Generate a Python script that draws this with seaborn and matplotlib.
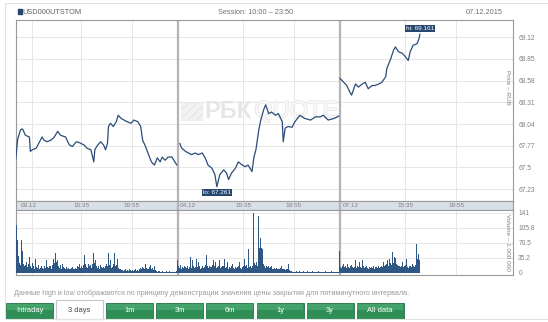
import numpy as np
import pandas as pd
import matplotlib
matplotlib.use("Agg")
import matplotlib.pyplot as plt
from matplotlib.patches import Rectangle
import matplotlib.patheffects as pe
import seaborn as sns

sns.set_theme(style="white")
plt.rcParams["font.family"] = ["Liberation Sans", "DejaVu Sans"]

# ---------------------------------------------------------------- data
ticker = "USD000UTSTOM"
session_text = "Session: 10:00 \u2013 23:50"
current_date = "07.12.2015"
days = ["03.12", "04.12", "07.12"]

# 5-minute closing prices (time of bar, price), one pair of lists per day
times_d1 = ["10:00", "10:10", "10:25", "10:35", "10:50", "11:10", "11:15", "11:25", "11:45",
            "12:00", "12:15", "12:25", "12:40", "13:00", "13:15", "13:35", "13:50", "14:15",
            "14:35", "14:50", "15:10", "15:25", "15:50", "16:05", "16:25", "16:40", "16:45",
            "17:00", "17:15", "17:30", "17:40", "17:50", "17:55", "18:05", "18:20", "18:35",
            "18:45", "19:00", "19:15", "19:30", "19:50", "20:05", "20:25", "20:40", "20:50",
            "21:05", "21:25", "21:35", "21:50", "22:05", "22:20", "22:30", "22:45", "23:00",
            "23:20", "23:35", "23:45"]
price_d1 = [67.60, 67.85, 67.97, 67.98, 67.90, 67.88, 67.70, 67.72, 67.74,
            67.81, 67.88, 67.84, 67.82, 67.84, 67.87, 67.95, 67.90, 67.88,
            67.78, 67.76, 67.82, 67.81, 67.78, 67.74, 67.72, 67.57, 67.72,
            67.78, 67.82, 67.78, 67.72, 67.80, 68.01, 68.05, 68.01, 68.07,
            68.15, 68.11, 68.09, 68.07, 68.05, 68.09, 68.07, 68.01, 67.84,
            67.76, 67.63, 67.57, 67.53, 67.62, 67.57, 67.63, 67.59, 67.63,
            67.63, 67.57, 67.53]

times_d2 = ["10:10", "10:20", "10:40", "10:55", "11:10", "11:30", "11:45", "12:05", "12:20",
            "12:35", "12:55", "13:10", "13:20", "13:35", "13:55", "14:10", "14:20", "14:35",
            "14:55", "15:10", "15:30", "15:45", "16:00", "16:20", "16:30", "16:40", "16:55",
            "17:05", "17:20", "17:30", "17:45", "18:00", "18:20", "18:35", "18:55", "19:00",
            "19:10", "19:25", "19:45", "20:00", "20:25", "20:50", "21:20", "21:45", "22:10",
            "22:25", "22:50", "23:20", "23:45"]
price_d2 = [67.80, 67.74, 67.70, 67.68, 67.66, 67.68, 67.66, 67.68, 67.62,
            67.53, 67.49, 67.41, 67.261, 67.41, 67.47, 67.43, 67.35, 67.43,
            67.49, 67.57, 67.53, 67.51, 67.53, 67.45, 67.63, 67.72, 67.97,
            68.09, 68.22, 68.28, 68.17, 68.19, 68.15, 68.17, 68.07, 67.82,
            67.99, 68.01, 68.00, 68.07, 68.15, 68.11, 68.09, 68.13, 68.13,
            68.15, 68.09, 68.11, 68.14]

times_d3 = ["10:00", "10:20", "10:35", "10:55", "11:00", "11:20", "11:35", "11:55", "12:10",
            "12:25", "12:45", "13:00", "13:20", "13:35", "13:55", "14:00", "14:20", "14:35",
            "14:45", "15:00", "15:20", "15:35", "15:50", "16:00", "16:15", "16:35", "16:45",
            "16:50"]
price_d3 = [68.61, 68.56, 68.52, 68.42, 68.40, 68.54, 68.50, 68.54, 68.56,
            68.48, 68.52, 68.52, 68.54, 68.56, 68.63, 68.73, 68.85, 68.96,
            69.00, 68.94, 68.92, 68.88, 68.83, 68.94, 69.02, 69.04, 69.10,
            69.161]

# 5-minute traded volume (millions USD), one value per bar from 10:00
volume_d1 = [30, 113, 76, 40, 22, 18, 76, 52, 20, 15,
             18, 25, 14, 20, 37, 16, 12, 22, 15, 10,
             33, 14, 12, 18, 9, 11, 15, 12, 10, 16,
             13, 11, 29, 14, 12, 17, 15, 10, 18, 33,
             22, 47, 25, 29, 15, 12, 18, 10, 20, 14,
             11, 9, 13, 8, 12, 10, 9, 11, 14, 8,
             10, 12, 9, 15, 13, 21, 11, 16, 12, 18,
             41, 20, 33, 14, 12, 21, 15, 18, 12, 20,
             47, 22, 29, 17, 12, 15, 10, 18, 14, 11,
             13, 12, 16, 20, 15, 47, 18, 29, 12, 14,
             20, 47, 15, 18, 33, 12, 10, 8, 6, 7,
             5, 6, 8, 5, 7, 6, 5, 9, 6, 5,
             7, 5, 6, 8, 5, 6, 4, 9, 12, 10,
             14, 11, 9, 21, 12, 10, 8, 13, 18, 9,
             11, 7, 15, 6, 4, 3, 5, 4, 3, 2,
             4, 3, 2, 3, 5, 2, 3, 2, 4, 3,
             2, 3, 2, 3, 2, 4]
volume_d2 = [29, 15, 12, 18, 10, 14, 11, 16, 13, 12,
             15, 10, 14, 37, 12, 29, 16, 11, 14, 33,
             13, 25, 15, 10, 12, 16, 11, 14, 18, 41,
             15, 12, 16, 10, 14, 13, 18, 29, 15, 25,
             12, 14, 16, 29, 11, 13, 15, 17, 33, 12,
             14, 25, 10, 13, 11, 15, 21, 12, 9, 14,
             11, 13, 16, 25, 12, 10, 14, 17, 33, 15,
             18, 12, 56, 14, 16, 12, 18, 15, 141, 22,
             19, 25, 17, 134, 58, 82, 58, 55, 20, 15,
             12, 17, 13, 15, 11, 14, 16, 10, 9, 11,
             8, 12, 9, 10, 8, 11, 15, 9, 8, 10,
             7, 9, 8, 21, 6, 5, 4, 3, 4, 2,
             3, 2, 4, 3, 2, 5, 3, 2, 3, 4,
             2, 3, 2, 4, 3, 2, 3, 2, 4, 2,
             3, 2, 3, 2, 4, 3, 2, 3, 2, 3,
             2, 4, 3, 2, 3, 2, 3, 4, 2, 3,
             2, 3, 2, 3, 2, 3]
volume_d3 = [52, 14, 12, 16, 21, 13, 15, 11, 21, 14,
             12, 15, 18, 13, 11, 14, 29, 12, 15, 13,
             25, 14, 12, 29, 16, 11, 13, 15, 12, 10,
             14, 11, 13, 12, 15, 10, 13, 11, 14, 12,
             15, 11, 13, 16, 14, 25, 15, 18, 20, 29,
             16, 33, 22, 19, 48, 24, 37, 35, 20, 18,
             15, 17, 14, 16, 25, 13, 15, 19, 33, 14,
             12, 17, 15, 13, 21, 16, 14, 18, 68, 22,
             33, 44, 30]

price_ticks = [67.23, 67.5, 67.77, 68.04, 68.31, 68.58, 68.85, 69.12]
volume_ticks = [0, 35.2, 70.5, 105.8, 141]
hour_labels = ["15:35", "19:55"]
footer = ("Данные high и low отображаются по принципу демонстрации значения "
          "цены закрытия для пятиминутного интервала.")
buttons = ["Intraday", "3 days", "1m", "3m", "6m", "1y", "3y", "All data"]
active_button = "3 days"

# ---------------------------------------------------------------- helpers
BARS_PER_DAY = 166          # 10:00 ... 23:45, 5-minute bars


def slot(hhmm):
    h, m = map(int, hhmm.split(":"))
    return (h * 60 + m - 600) / 5


price_frames = []
for i, (t, p) in enumerate([(times_d1, price_d1), (times_d2, price_d2), (times_d3, price_d3)]):
    price_frames.append(pd.DataFrame({"pos": [i * BARS_PER_DAY + slot(x) for x in t],
                                      "price": p, "day": days[i]}))
prices = pd.concat(price_frames, ignore_index=True)

vol_frames = []
for i, v in enumerate([volume_d1, volume_d2, volume_d3]):
    vol_frames.append(pd.DataFrame({"pos": i * BARS_PER_DAY + np.arange(len(v)), "vol": v}))
volumes = pd.concat(vol_frames, ignore_index=True)

W, H = 548, 322
fig = plt.figure(figsize=(W / 100, H / 100), dpi=100)
fig.patch.set_facecolor("white")


def px_axes(x0, y0, x1, y1, **kw):
    return fig.add_axes([x0 / W, 1 - y1 / H, (x1 - x0) / W, (y1 - y0) / H], **kw)


LINE = "#2b4c78"
BAR = "#2f5783"
GRID = "#e6e6e6"
FRAME = "#9a9a9a"
SEP = "#b4b4b4"
TXT = "#808080"
XMAX = 509

# page background: frame, header, footer, tabs
bg = px_axes(0, 0, W, H)
bg.set_xlim(0, W)
bg.set_ylim(H, 0)
bg.axis("off")
bg.plot([5, 5, W], [318, 3, 3], color="#e2e2e2", lw=0.8)
bg.plot([5, W], [318.5, 318.5], color="#e2e2e2", lw=0.8)
bg.add_patch(Rectangle((17.5, 9), 4, 5, color="#2a4670"))
bg.text(22, 12, ticker, fontsize=5.3, color="#606060", va="center", ha="left")
bg.text(256, 12, session_text, fontsize=5.3, color="#707070", va="center", ha="center")
bg.text(503, 12, current_date, fontsize=5.3, color="#707070", va="center", ha="right")
bg.text(14, 293, footer, fontsize=5.2, color="#9a9a9a", va="center", ha="left")

bx = 6
for name in buttons:
    if name == active_button:
        bg.add_patch(Rectangle((bx, 300), 47, 19, facecolor="white", edgecolor="#c8c8c8", lw=0.8))
        bg.text(bx + 23.5, 310.5, name, fontsize=5.4, color="#444444", ha="center", va="center")
    else:
        bg.add_patch(Rectangle((bx, 303), 47, 15.5, facecolor="#2f8f57", edgecolor="#237245", lw=0.6))
        bg.add_patch(Rectangle((bx + 0.5, 303.5), 46, 6, facecolor="#43a36b", edgecolor="none"))
        bg.text(bx + 23.5, 310.5, name, fontsize=5.4, color="white", ha="center", va="center")
    bx += 50.1

# ---------------------------------------------------------------- price panel
L, R = 15.7, 512.7
axp = px_axes(L, 20, R, 201)
axp.set_facecolor("white")

grid_pos = [slot("11:25")] + [d * BARS_PER_DAY + slot(h) for d in range(3) for h in hour_labels]
sep_pos = [BARS_PER_DAY, 2 * BARS_PER_DAY]

for y in price_ticks:
    axp.axhline(y, color=GRID, lw=0.7, zorder=0)
for x in grid_pos:
    axp.axvline(x, color=GRID, lw=0.7, zorder=0)
for x in sep_pos:
    axp.axvline(x, color=SEP, lw=1.6, zorder=1)

# watermark
axp.add_patch(Rectangle((0.332, 0.445), 0.043, 0.10, transform=axp.transAxes,
                        facecolor="#f2f2f2", edgecolor="#e6e6e6", hatch="////", lw=0.4, zorder=0.5))
axp.text(0.380, 0.495, "РБК", transform=axp.transAxes, fontsize=17, fontweight="bold",
         color="#e6e6e6", ha="left", va="center", zorder=0.5)
axp.text(0.480, 0.495, "QUOTE", transform=axp.transAxes, fontsize=17,
         color="#fafafa", ha="left", va="center", zorder=0.5,
         path_effects=[pe.withStroke(linewidth=1.0, foreground="#e2e2e2")])

sns.lineplot(data=prices, x="pos", y="price", units="day", estimator=None,
             color=LINE, lw=0.9, ax=axp, zorder=3)

axp.set_xlim(0, XMAX)
axp.set_ylim(67.083, 69.335)
axp.set_xticks([])
axp.yaxis.tick_right()
axp.set_yticks(price_ticks)
axp.set_yticklabels([f"{v:g}" for v in price_ticks])
axp.tick_params(axis="y", length=0, pad=4, labelsize=4.8, labelcolor=TXT)
axp.set_xlabel("")
axp.set_ylabel("")
for s in axp.spines.values():
    s.set_color(FRAME)
    s.set_linewidth(0.8)
axp.text(0.99, 0.63, "Price \u2013 RUB", transform=axp.transAxes, rotation=270,
         fontsize=4.6, color=TXT, ha="center", va="center")

# hi / lo markers
ihi = prices["price"].idxmax()
ilo = prices["price"].idxmin()
box = dict(boxstyle="square,pad=0.15", facecolor="#24466f", edgecolor="none")
axp.annotate(f"hi: {prices.loc[ihi, 'price']:.3f}", (prices.loc[ihi, "pos"], prices.loc[ihi, "price"]),
             xytext=(0, 4), textcoords="offset points", ha="center", va="center",
             fontsize=4.6, color="white", bbox=box, zorder=5)
axp.annotate(f"lo: {prices.loc[ilo, 'price']:.3f}", (prices.loc[ilo, "pos"], prices.loc[ilo, "price"]),
             xytext=(0, -4), textcoords="offset points", ha="center", va="center",
             fontsize=4.6, color="white", bbox=box, zorder=5)

# ---------------------------------------------------------------- time band
axb = px_axes(L, 201, R, 210)
axb.set_facecolor("#d9dfe7")
axb.set_xlim(0, XMAX)
axb.set_ylim(0, 1)
axb.set_xticks([])
axb.set_yticks([])
for s in axb.spines.values():
    s.set_color(FRAME)
    s.set_linewidth(0.8)
for d, name in enumerate(days):
    start = d * BARS_PER_DAY
    axb.text(start + (5 if d == 0 else 2.5), 0.45, name, fontsize=4.6, color=TXT, ha="left", va="center")
    for h in hour_labels:
        axb.text(start + slot(h), 0.45, h, fontsize=4.6, color=TXT, ha="center", va="center")
for x in sep_pos:
    axb.axvline(x, color=SEP, lw=1.6)

# ---------------------------------------------------------------- volume panel
axv = px_axes(L, 210, R, 274.5)
axv.set_facecolor("white")
for y in volume_ticks[1:]:
    axv.axhline(y, color=GRID, lw=0.7, zorder=0)
for x in grid_pos:
    axv.axvline(x, color=GRID, lw=0.7, zorder=0)
for x in sep_pos:
    axv.axvline(x, color=SEP, lw=1.6, zorder=1)

sns.histplot(data=volumes, x="pos", weights="vol", discrete=True, shrink=1.0,
             color=BAR, edgecolor=None, linewidth=0, alpha=1, ax=axv, zorder=3)

axv.set_xlim(0, XMAX)
axv.set_ylim(-4, 147.5)
axv.set_xticks([])
axv.yaxis.tick_right()
axv.set_yticks(volume_ticks)
axv.set_yticklabels([f"{v:g}" for v in volume_ticks])
axv.tick_params(axis="y", length=0, pad=4, labelsize=4.8, labelcolor=TXT)
axv.set_xlabel("")
axv.set_ylabel("")
for s in axv.spines.values():
    s.set_color(FRAME)
    s.set_linewidth(0.8)
axv.text(0.99, 0.5, "Volume \u2013 1 000 000", transform=axv.transAxes, rotation=270,
         fontsize=4.6, color=TXT, ha="center", va="center")

fig.savefig("out.png", dpi=100)
